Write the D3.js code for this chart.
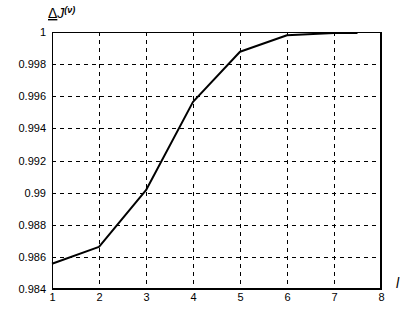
<!DOCTYPE html>
<html><head><meta charset="utf-8">
<script src="https://cdn.jsdelivr.net/npm/d3@7"></script>
<style>
body{margin:0;background:#fff;}
text{font-family:"Liberation Sans",Arial,sans-serif;fill:#000;}
</style></head>
<body><svg id="c" width="402" height="312"></svg>
<script>
const xValues = [1, 2, 3, 4, 5, 6, 7, 7.5];
const yValues = [0.98557, 0.98662, 0.99015, 0.99565, 0.99877, 0.9998, 0.99993, 0.99993];
const xTicks = [1, 2, 3, 4, 5, 6, 7, 8];
const yTicks = [0.984, 0.986, 0.988, 0.99, 0.992, 0.994, 0.996, 0.998, 1];
const yTickLabels = ["0.984", "0.986", "0.988", "0.99", "0.992", "0.994", "0.996", "0.998", "1"];

const svg = d3.select("#c");
const L = 52, R = 381, T = 32, B = 289;
const x = d3.scaleLinear().domain([1, 8]).range([L, R]);
const y = d3.scaleLinear().domain([0.984, 1]).range([B, T]);

// grid
const g = svg.append("g").attr("shape-rendering", "crispEdges");
g.selectAll(".vg").data(xTicks.slice(1, -1)).enter().append("line")
  .attr("x1", d => Math.round(x(d)) + 0.5).attr("x2", d => Math.round(x(d)) + 0.5)
  .attr("y1", T).attr("y2", B)
  .attr("stroke", "#000").attr("stroke-width", 1).attr("stroke-dasharray", "4,4");
g.selectAll(".hg").data(yTicks.slice(1, -1)).enter().append("line")
  .attr("y1", d => Math.round(y(d)) + 0.5).attr("y2", d => Math.round(y(d)) + 0.5)
  .attr("x1", L).attr("x2", R)
  .attr("stroke", "#000").attr("stroke-width", 1).attr("stroke-dasharray", "4,4");

// frame
g.append("line").attr("x1", L).attr("x2", R).attr("y1", T + 0.5).attr("y2", T + 0.5).attr("stroke", "#000").attr("stroke-width", 1);
g.append("line").attr("x1", L + 0.5).attr("x2", L + 0.5).attr("y1", T).attr("y2", B).attr("stroke", "#000").attr("stroke-width", 1);
g.append("line").attr("x1", L).attr("x2", R + 1).attr("y1", B).attr("y2", B).attr("stroke", "#000").attr("stroke-width", 2);
g.append("line").attr("x1", R).attr("x2", R).attr("y1", T).attr("y2", B + 1).attr("stroke", "#000").attr("stroke-width", 2);

// axes tick labels via d3 axes (no tick lines)
const xa = svg.append("g").attr("transform", `translate(0,${B})`)
  .call(d3.axisBottom(x).tickValues(xTicks).tickSize(0).tickPadding(4).tickFormat(d3.format("d")));
xa.select(".domain").remove();
xa.selectAll("text").style("font-size", "11px").attr("font-family", null);

const ya = svg.append("g").attr("transform", `translate(${L},0)`)
  .call(d3.axisLeft(y).tickValues(yTicks).tickSize(0).tickPadding(6).tickFormat((d, i) => yTickLabels[i]));
ya.select(".domain").remove();
ya.selectAll("text").style("font-size", "11px").attr("font-family", null);

// line
const line = d3.line().x((d, i) => x(xValues[i])).y(d => y(d));
svg.append("path").datum(yValues).attr("d", line)
  .attr("fill", "none").attr("stroke", "#000").attr("stroke-width", 2).attr("stroke-linejoin", "round");

// labels
const yl = svg.append("text").attr("x", 48).attr("y", 18).style("font-size", "14px").style("font-style", "italic");
yl.append("tspan").text("Δ").style("text-decoration", "underline").style("font-style", "normal");
yl.append("tspan").text("J");
yl.append("tspan").text("(ν)").attr("dy", -5).style("font-size", "9px").style("font-weight", "bold");
svg.append("text").attr("x", 396).attr("y", 288).style("font-size", "14px").style("font-style", "italic").text("l");
</script></body></html>
